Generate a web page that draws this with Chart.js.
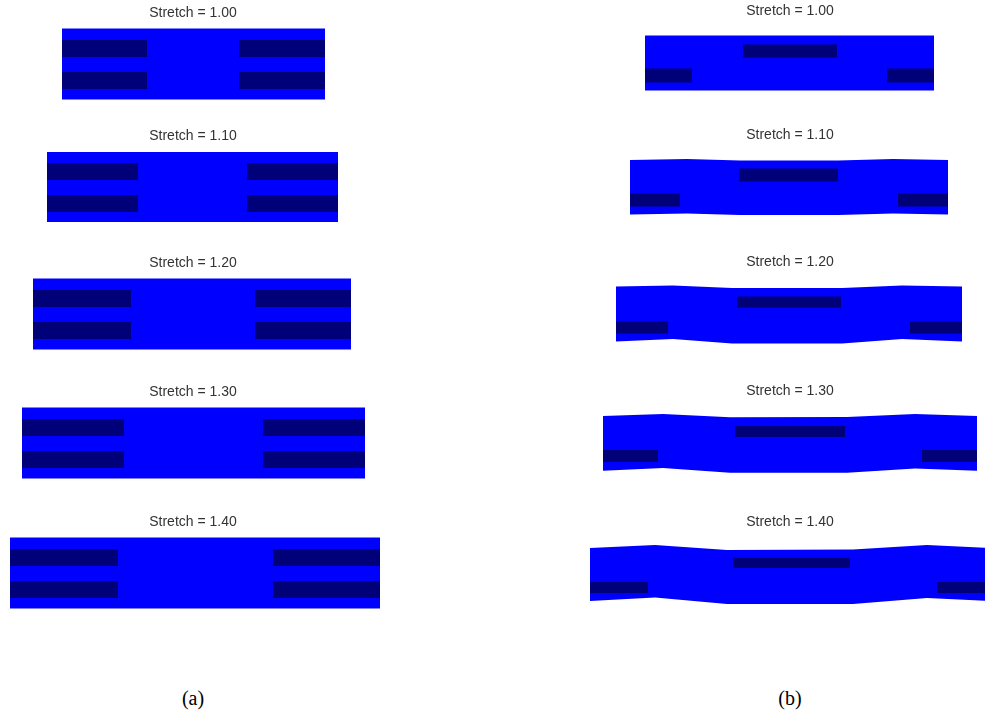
<!DOCTYPE html>
<html>
<head>
<meta charset="utf-8">
<script src="https://cdn.jsdelivr.net/npm/chart.js@4.4.0/dist/chart.umd.min.js"></script>
<style>
  html, body { margin: 0; padding: 0; background: #fff; overflow: hidden; width: 985px; height: 715px; }
  canvas { position: absolute; }
  .lab { position: absolute; width: 60px; margin-left: -30px; text-align: center;
         font-family: 'Liberation Serif', 'Times New Roman', serif; font-size: 20px; line-height: 22px; color: #000; }
</style>
</head>
<body>
<div class="lab" style="left:193px; top:687px">(a)</div>
<div class="lab" style="left:790px; top:687px">(b)</div>
<script>
// Stretch levels, one panel per level in each column
const stretch = [1.0, 1.1, 1.2, 1.3, 1.4];

// (a) x measured from specimen centre, y from its mid-line
const aLeftEnd = [-131, -146, -160, -171, -183];
const aRightEnd = [132, 145, 158, 172, 187];
const aGapLeft = [-46, -55, -62, -69, -75];
const aGapRight = [46, 54, 62, 70, 80];
const aHalfHeight = [35.5, 35, 35.5, 35.5, 35.5];
const aRowUpper = [7, 24];
const aRowLower = [-25, -8];

// (b) wavy outline knots
const bEdgeX = [
  [-145, 144],
  [-160, -103, -50, 48, 103, 158],
  [-174, -117, -58, 52, 112, 172],
  [-187, -127, -60, 57, 125, 187],
  [-201, -135, -63, 63, 137, 201]
];
const bEdgeTop = [
  [27.5, 27.5],
  [27, 28, 26.5, 26.5, 28, 27],
  [27.5, 28.5, 26, 26, 28.5, 27.5],
  [27, 29, 25.7, 26, 29, 27],
  [26, 29, 24, 24.5, 29, 26]
];
const bEdgeBottom = [
  [-27.5, -27.5],
  [-27.5, -26.5, -28, -28, -26.5, -27.5],
  [-27.5, -25, -29.5, -29.5, -25, -27.5],
  [-27.7, -25, -29.7, -29.7, -25.5, -27.7],
  [-27, -23.5, -30, -30, -24, -27]
];
const bCentreInc = [[-47, 47], [-51, 48], [-53, 51], [-55, 55], [-57, 60]];
const bCentreIncY = [[5.5, 18.5], [5.5, 18.5], [6.5, 17.5], [6, 17], [6, 16]];
const bSideInc = [[-98, 97], [-110, 108], [-122, 120], [-132, 132], [-142, 147]];
const bSideIncY = [[-19.5, -5.5], [-19.5, -6.5], [-19.5, -7.5], [-19, -7], [-19, -8]];

const MATRIX = '#0000ff';
const FIBRE = '#000078';

// page layout of the panels
const colA = {left: 0, width: 386, xMin: -193, xMax: 193, height: 99, pad: 2.2, tops: [5, 128, 255, 384, 514]};
const colB = {left: 590, width: 400, xMin: -200, xMax: 200, height: 100, pad: 3.2, tops: [3, 127, 254, 383, 514]};

function rect(x0, x1, y0, y1, color) {
  return {x: [x0, x1], top: [y1, y1], bottom: [y0, y0], color};
}

function shapeDatasets(shapes) {
  const datasets = [];
  shapes.forEach((s) => {
    const order = s.color === MATRIX ? 2 : 1;
    datasets.push({
      data: s.x.map((x, i) => ({x, y: s.top[i]})),
      fill: '+1',
      backgroundColor: s.color,
      borderColor: 'rgba(0,0,0,0)',
      borderWidth: 0,
      pointRadius: 0,
      tension: 0,
      order
    });
    datasets.push({
      data: s.x.map((x, i) => ({x, y: s.bottom[i]})),
      fill: false,
      borderColor: 'rgba(0,0,0,0)',
      borderWidth: 0,
      pointRadius: 0,
      tension: 0,
      order
    });
  });
  return datasets;
}

function renderPanel(col, i, shapes) {
  const canvas = document.createElement('canvas');
  canvas.width = col.width;
  canvas.height = col.height;
  canvas.style.left = col.left + 'px';
  canvas.style.top = col.tops[i] + 'px';
  document.body.appendChild(canvas);

  return new Chart(canvas, {
    type: 'line',
    data: {datasets: shapeDatasets(shapes)},
    options: {
      responsive: false,
      devicePixelRatio: 1,
      animation: false,
      events: [],
      layout: {padding: 0},
      scales: {
        x: {type: 'linear', min: col.xMin, max: col.xMax, display: false},
        y: {type: 'linear', min: -40, max: 40, display: false}
      },
      plugins: {
        legend: {display: false},
        tooltip: {enabled: false},
        title: {
          display: true,
          text: `Stretch = ${stretch[i].toFixed(2)}`,
          color: '#333',
          font: {family: 'Liberation Sans, Arial, sans-serif', size: 14, weight: 'normal', lineHeight: 1.2},
          padding: {top: 0, bottom: col.pad}
        }
      }
    }
  });
}

stretch.forEach((s, i) => {
  const h = aHalfHeight[i];
  renderPanel(colA, i, [
    rect(aLeftEnd[i], aRightEnd[i], -h, h, MATRIX),
    rect(aLeftEnd[i], aGapLeft[i], aRowUpper[0], aRowUpper[1], FIBRE),
    rect(aLeftEnd[i], aGapLeft[i], aRowLower[0], aRowLower[1], FIBRE),
    rect(aGapRight[i], aRightEnd[i], aRowUpper[0], aRowUpper[1], FIBRE),
    rect(aGapRight[i], aRightEnd[i], aRowLower[0], aRowLower[1], FIBRE)
  ]);

  const ex = bEdgeX[i];
  const first = ex[0];
  const last = ex[ex.length - 1];
  renderPanel(colB, i, [
    {x: ex, top: bEdgeTop[i], bottom: bEdgeBottom[i], color: MATRIX},
    rect(bCentreInc[i][0], bCentreInc[i][1], bCentreIncY[i][0], bCentreIncY[i][1], FIBRE),
    rect(first, bSideInc[i][0], bSideIncY[i][0], bSideIncY[i][1], FIBRE),
    rect(bSideInc[i][1], last, bSideIncY[i][0], bSideIncY[i][1], FIBRE)
  ]);
});
</script>
</body>
</html>
